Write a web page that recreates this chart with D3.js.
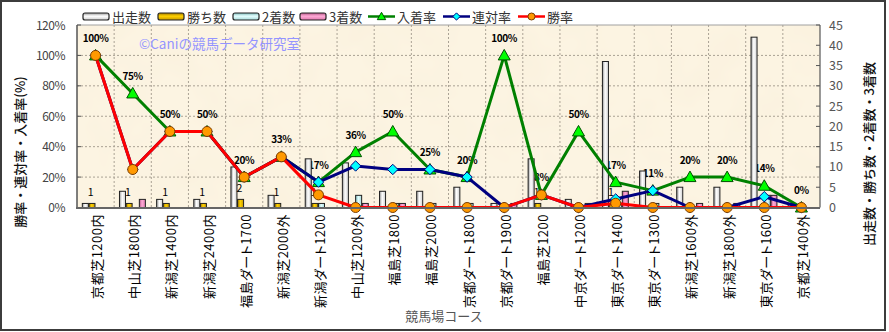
<!DOCTYPE html>
<html>
<head>
<meta charset="utf-8">
<script src="https://cdn.jsdelivr.net/npm/d3@7"></script>
<style>
  html, body { margin: 0; padding: 0; background: #ffffff; }
  svg { display: block; }
  text { font-family: "Noto Sans CJK JP", "Liberation Sans", sans-serif; }
  .cat { font-feature-settings: "palt"; }
</style>
</head>
<body>
<svg id="chart" width="889" height="332"></svg>
<script>
// Course categories (x axis)
const categories = [
  "京都芝1200内", "中山芝1800内", "新潟芝1400内", "新潟芝2400内", "福島ダート1700",
  "新潟芝2000外", "新潟ダート1200", "中山芝1200外", "福島芝1800", "福島芝2000",
  "京都ダート1800", "京都ダート1900", "福島芝1200", "中京ダート1200", "東京ダート1400",
  "東京ダート1300", "新潟芝1600外", "新潟芝1800外", "東京ダート1600", "京都芝1400外"
];

// Counts (right axis)
const starts  = [1, 4, 2, 2, 10, 3, 12, 11, 4, 4, 5, 1, 12, 2, 36, 9, 5, 5, 42, 1];
const wins    = [1, 1, 1, 1, 2, 1, 1, 0, 0, 0, 0, 0, 1, 0, 1, 0, 0, 0, 0, 0];
const seconds = [0, 0, 0, 0, 0, 0, 1, 3, 1, 1, 1, 0, 0, 0, 1, 1, 0, 0, 3, 0];
const thirds  = [0, 2, 0, 0, 0, 0, 0, 1, 1, 0, 0, 1, 0, 1, 4, 0, 1, 1, 3, 0];

// Rates in percent (left axis)
const placeRate    = [100, 75, 50, 50, 20, 33.3, 16.7, 36.4, 50, 25, 20, 100, 8.3, 50, 16.7, 11.1, 20, 20, 14.3, 0];
const quinellaRate = [100, 25, 50, 50, 20, 33.3, 16.7, 27.3, 25, 25, 20, 0, 8.3, 0, 5.6, 11.1, 0, 0, 7.1, 0];
const winRate      = [100, 25, 50, 50, 20, 33.3, 8.3, 0, 0, 0, 0, 0, 8.3, 0, 2.8, 0, 0, 0, 0, 0];

const leftTicks  = [0, 20, 40, 60, 80, 100, 120];
const rightTicks = [0, 5, 10, 15, 20, 25, 30, 35, 40, 45];

const svg = d3.select("#chart");
const defs = svg.append("defs");

// plot area
const L = 77, R = 820, T = 25, B = 207.5;

const x = d3.scaleBand().domain(categories).range([L, R]);
const yL = d3.scaleLinear().domain([0, 120]).range([B, T]);
const yR = d3.scaleLinear().domain([0, 45]).range([B, T]);

const barKeys = ["starts", "wins", "seconds", "thirds"];
const barSeries = { starts, wins, seconds, thirds };
const groupW = 26.5;
const xb = d3.scaleBand().domain(barKeys).range([-groupW / 2, groupW / 2]);

// bar gradients
const grads = {
  starts:  ["#9a9a9a", "#ffffff", "#cfcfcf"],
  wins:    ["#a07800", "#ffd200", "#c89a00"],
  seconds: ["#7fbcbc", "#e4ffff", "#a8dada"],
  thirds:  ["#b8578a", "#ffaad6", "#e07ab0"]
};
Object.entries(grads).forEach(([k, c]) => {
  const g = defs.append("linearGradient").attr("id", "g-" + k)
    .attr("x1", "0").attr("x2", "1").attr("y1", "0").attr("y2", "0");
  g.append("stop").attr("offset", "0%").attr("stop-color", c[0]);
  g.append("stop").attr("offset", "45%").attr("stop-color", c[1]);
  g.append("stop").attr("offset", "100%").attr("stop-color", c[2]);
  const gv = defs.append("linearGradient").attr("id", "gv-" + k)
    .attr("x1", "0").attr("x2", "0").attr("y1", "0").attr("y2", "1");
  gv.append("stop").attr("offset", "0%").attr("stop-color", c[0]);
  gv.append("stop").attr("offset", "45%").attr("stop-color", c[1]);
  gv.append("stop").attr("offset", "100%").attr("stop-color", c[2]);
});

// parchment texture
const f = defs.append("filter").attr("id", "paper")
  .attr("x", 0).attr("y", 0).attr("width", "100%").attr("height", "100%");
f.append("feTurbulence").attr("type", "fractalNoise").attr("baseFrequency", "0.02")
  .attr("numOctaves", 3).attr("seed", 7).attr("result", "n");
f.append("feColorMatrix").attr("type", "matrix")
  .attr("values", "0 0 0 0 0.93  0 0 0 0 0.84  0 0 0 0 0.68  0.7 0 0 0 -0.28");

// outer frame
svg.append("rect").attr("x", 1).attr("y", 1).attr("width", 884).attr("height", 329)
  .attr("fill", "#fff").attr("stroke", "#3c3c3c").attr("stroke-width", 2);

// plot background
svg.append("rect").attr("x", L).attr("y", T).attr("width", R - L).attr("height", B - T)
  .attr("fill", "#fcf4e2");
svg.append("rect").attr("x", L).attr("y", T).attr("width", R - L).attr("height", B - T)
  .attr("filter", "url(#paper)");

// gridlines
const grid = svg.append("g").attr("stroke", "#aaa294").attr("stroke-width", 1)
  .attr("stroke-dasharray", "2,2").attr("fill", "none");
leftTicks.filter(v => v > 0 && v < 120).forEach(v => {
  grid.append("line").attr("x1", L).attr("x2", R).attr("y1", yL(v)).attr("y2", yL(v));
});
categories.slice(1).forEach(c => {
  grid.append("line").attr("x1", x(c)).attr("x2", x(c)).attr("y1", T).attr("y2", B);
});

// watermark
svg.append("text").attr("x", 139).attr("y", 48.5).attr("font-size", 13.5)
  .attr("fill", "#9494ff").text("©Caniの競馬データ研究室");

// rate labels (placing rate)
svg.append("g").selectAll("text").data(categories).join("text")
  .attr("x", d => x(d) + x.bandwidth() / 2)
  .attr("y", (d, i) => yL(placeRate[i]) - 13.5)
  .attr("text-anchor", "middle")
  .attr("font-family", "Liberation Sans, Arial, sans-serif")
  .attr("font-weight", "bold").attr("font-size", 10).attr("letter-spacing", "-0.4")
  .attr("fill", "#000")
  .text((d, i) => Math.round(placeRate[i]) + "%");

// bars
const bars = svg.append("g");
barKeys.forEach(k => {
  bars.append("g").selectAll("rect").data(categories).join("rect")
    .attr("x", d => x(d) + x.bandwidth() / 2 + xb(k))
    .attr("width", xb.bandwidth() - 0.6)
    .attr("y", (d, i) => yR(barSeries[k][i]))
    .attr("height", (d, i) => B - yR(barSeries[k][i]))
    .attr("fill", "url(#g-" + k + ")")
    .attr("stroke", "#222").attr("stroke-width", 1)
    .attr("visibility", (d, i) => barSeries[k][i] > 0 ? "visible" : "hidden");
});

// win count labels
svg.append("g").selectAll("text").data(categories.filter((d, i) => wins[i] > 0)).join("text")
  .attr("x", d => x(d) + x.bandwidth() / 2 + xb("wins") + xb.bandwidth() / 2 - 1.5)
  .attr("y", d => yR(wins[categories.indexOf(d)]) - 7.5)
  .attr("text-anchor", "middle")
  .attr("font-family", "Liberation Sans, Arial, sans-serif")
  .attr("font-size", 10.5).attr("fill", "#000")
  .text(d => wins[categories.indexOf(d)]);

// axes lines
svg.append("line").attr("x1", L).attr("x2", R).attr("y1", T).attr("y2", T)
  .attr("stroke", "#a0a0a0").attr("stroke-width", 1);
svg.append("line").attr("x1", L).attr("x2", L).attr("y1", T).attr("y2", B)
  .attr("stroke", "#555").attr("stroke-width", 1.5);
svg.append("line").attr("x1", R).attr("x2", R).attr("y1", T).attr("y2", B)
  .attr("stroke", "#555").attr("stroke-width", 1.2);

// left axis
const gl = svg.append("g");
leftTicks.forEach(v => {
  gl.append("line").attr("x1", L).attr("x2", L + 4).attr("y1", yL(v)).attr("y2", yL(v))
    .attr("stroke", "#555");
  gl.append("text").attr("x", 65).attr("y", yL(v) + 4.5).attr("text-anchor", "end")
    .attr("font-family", "Liberation Sans, Arial, sans-serif").attr("font-size", 12)
    .attr("letter-spacing", "-0.5").attr("fill", "#444").text(v + "%");
});
// right axis
const gr = svg.append("g");
rightTicks.forEach(v => {
  gr.append("line").attr("x1", R - 4).attr("x2", R).attr("y1", yR(v)).attr("y2", yR(v))
    .attr("stroke", "#555");
  gr.append("text").attr("x", 829).attr("y", yR(v) + 4.5).attr("text-anchor", "start")
    .attr("font-family", "Liberation Sans, Arial, sans-serif").attr("font-size", 12.5)
    .attr("fill", "#555").text(v);
});

// rate series
const series = [
  { name: "入着率", data: placeRate, line: "#008000", fill: "#00ff00", stroke: "#005000", shape: "tri" },
  { name: "連対率", data: quinellaRate, line: "#000080", fill: "#00ffff", stroke: "#000080", shape: "dia" },
  { name: "勝率", data: winRate, line: "#ff0000", fill: "#ff9900", stroke: "#7a3d00", shape: "cir" }
];

function marker(g, shape, cx, cy, s) {
  if (shape === "tri") {
    const h = 6 * s;
    return g.append("path").attr("d", `M${cx},${cy - h} L${cx + h},${cy + h * 0.75} L${cx - h},${cy + h * 0.75} Z`);
  } else if (shape === "dia") {
    const h = 5.2 * s;
    return g.append("path").attr("d", `M${cx},${cy - h} L${cx + h},${cy} L${cx},${cy + h} L${cx - h},${cy} Z`);
  }
  return g.append("circle").attr("cx", cx).attr("cy", cy).attr("r", 5 * s);
}

const line = d3.line().x((d, i) => x(categories[i]) + x.bandwidth() / 2).y(d => yL(d));
series.forEach(s => {
  const g = svg.append("g");
  g.append("path").attr("d", line(s.data)).attr("fill", "none")
    .attr("stroke", s.line).attr("stroke-width", 3).attr("stroke-linejoin", "round");
  s.data.forEach((v, i) => {
    marker(g, s.shape, x(categories[i]) + x.bandwidth() / 2, yL(v), 1)
      .attr("fill", s.fill).attr("stroke", s.stroke).attr("stroke-width", 1);
  });
});

// bottom axis line
svg.append("line").attr("x1", L - 1).attr("x2", R).attr("y1", B + 0.5).attr("y2", B + 0.5)
  .attr("stroke", "#666").attr("stroke-width", 2);

// category labels
svg.append("g").selectAll("text").data(categories).join("text")
  .attr("class", "cat")
  .attr("transform", d => `translate(${x(d) + x.bandwidth() / 2 + 1},214) rotate(-90)`)
  .attr("text-anchor", "end").attr("dominant-baseline", "central")
  .attr("font-size", 13).attr("letter-spacing", "0.5").attr("fill", "#000").text(d => d);

// axis titles
svg.append("text").attr("transform", "translate(19,152) rotate(-90)")
  .attr("text-anchor", "middle").attr("dominant-baseline", "central")
  .attr("font-size", 13).attr("font-weight", "500").attr("fill", "#111").text("勝率・連対率・入着率(%)");
svg.append("text").attr("transform", "translate(868,154) rotate(-90)")
  .attr("text-anchor", "middle").attr("dominant-baseline", "central")
  .attr("font-size", 13).attr("font-weight", "500").attr("fill", "#111").text("出走数・勝ち数・2着数・3着数");
svg.append("text").attr("x", 444).attr("y", 321).attr("text-anchor", "middle")
  .attr("font-size", 13).attr("fill", "#555").text("競馬場コース");

// legend
const legend = svg.append("g");
const barLegend = [
  { key: "starts", label: "出走数", x: 83 },
  { key: "wins", label: "勝ち数", x: 158 },
  { key: "seconds", label: "2着数", x: 233 },
  { key: "thirds", label: "3着数", x: 300 }
];
barLegend.forEach(b => {
  legend.append("rect").attr("x", b.x).attr("y", 13).attr("width", 26).attr("height", 7)
    .attr("rx", 2).attr("fill", "url(#gv-" + b.key + ")").attr("stroke", "#222").attr("stroke-width", 1.2);
  legend.append("text").attr("x", b.x + 29).attr("y", 21.5).attr("font-size", 13)
    .attr("fill", "#333").text(b.label);
});
const lineLegendX = [368, 443, 518];
series.forEach((s, i) => {
  const lx = lineLegendX[i];
  legend.append("line").attr("x1", lx).attr("x2", lx + 27).attr("y1", 16.5).attr("y2", 16.5)
    .attr("stroke", s.line).attr("stroke-width", 2.5);
  marker(legend, s.shape, lx + 13.5, 16.5, 0.7)
    .attr("fill", s.fill).attr("stroke", s.stroke).attr("stroke-width", 1);
  legend.append("text").attr("x", lx + 29).attr("y", 21.5).attr("font-size", 13)
    .attr("fill", "#333").text(s.name);
});
</script>
</body>
</html>
